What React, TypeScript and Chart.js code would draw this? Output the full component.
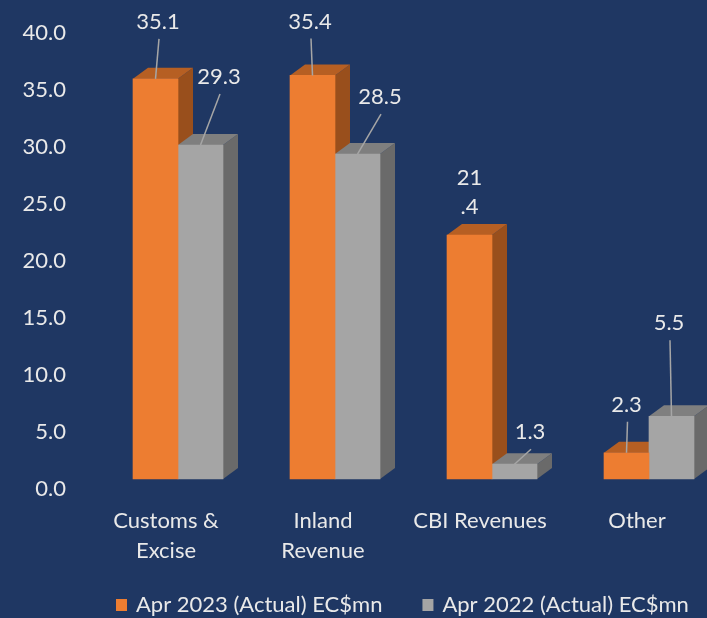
import React, { useEffect, useRef } from 'react';
import { Chart, registerables } from 'chart.js';

Chart.register(...registerables);

// ---- data ----
const categories: string[][] = [['Customs &', 'Excise'], ['Inland', 'Revenue'], ['CBI Revenues'], ['Other']];
const seriesNames = ['Apr 2023 (Actual) EC$mn', 'Apr 2022 (Actual) EC$mn'];
const apr2023 = [35.1, 35.4, 21.4, 2.3];
const apr2022 = [29.3, 28.5, 1.3, 5.5];
const yMin = 0;
const yMax = 40;
const yStep = 5;

// ---- styling ----
const BG = '#1F3763';
const TEXT = '#E9E9E9';
const FONT = 'Lato, "Open Sans", sans-serif';
const FS = 22;
const FRONT = ['#ED7D31', '#A5A5A5'];
const TOP = ['#B65F23', '#7F7F7F'];
const SIDE = ['#994F1C', '#6A6A6A'];
const DX = 15;
const DY = -11;
// label placement relative to bar top centre [dataset][category]
const labelLayout = [
  [{ dx: 2.5, dy: -57, leader: true, wrap: false }, { dx: -2.5, dy: -54, leader: true, wrap: false }, { dx: 0, dy: -43, leader: false, wrap: true }, { dx: 0, dy: -48, leader: true, wrap: false }],
  [{ dx: 18.5, dy: -68, leader: true, wrap: false }, { dx: 22.5, dy: -57, leader: true, wrap: false }, { dx: 15.5, dy: -32, leader: true, wrap: false }, { dx: -2.5, dy: -93, leader: true, wrap: false }],
];

const bgPlugin = {
  id: 'bg',
  beforeDraw(chart: any) {
    const ctx = chart.ctx;
    ctx.save();
    ctx.fillStyle = BG;
    ctx.fillRect(0, 0, chart.width, chart.height);
    ctx.restore();
  },
};

const threeD = {
  id: 'threeD',
  beforeDatasetsDraw(chart: any) {
    const ctx = chart.ctx;
    ctx.save();
    chart.data.datasets.forEach((_ds: any, d: number) => {
      const meta = chart.getDatasetMeta(d);
      meta.data.forEach((el: any) => {
        const left = el.x - el.width / 2;
        const right = el.x + el.width / 2;
        const top = el.y;
        const base = el.base;
        // side
        ctx.fillStyle = SIDE[d];
        ctx.beginPath();
        ctx.moveTo(right, top);
        ctx.lineTo(right + DX, top + DY);
        ctx.lineTo(right + DX, base + DY);
        ctx.lineTo(right, base);
        ctx.closePath();
        ctx.fill();
        // top
        ctx.fillStyle = TOP[d];
        ctx.beginPath();
        ctx.moveTo(left, top);
        ctx.lineTo(left + DX, top + DY);
        ctx.lineTo(right + DX, top + DY);
        ctx.lineTo(right, top);
        ctx.closePath();
        ctx.fill();
      });
    });
    ctx.restore();
  },
  afterDatasetsDraw(chart: any) {
    const ctx = chart.ctx;
    ctx.save();
    ctx.font = `${FS}px ${FONT}`;
    ctx.textAlign = 'center';
    ctx.textBaseline = 'middle';
    chart.data.datasets.forEach((ds: any, d: number) => {
      const meta = chart.getDatasetMeta(d);
      meta.data.forEach((el: any, i: number) => {
        const lay = labelLayout[d][i];
        const lx = el.x + lay.dx;
        const ly = el.y + lay.dy;
        const txt = Number(ds.data[i]).toFixed(1);
        if (lay.leader) {
          ctx.strokeStyle = '#A6A6A6';
          ctx.lineWidth = 1.5;
          ctx.beginPath();
          ctx.moveTo(lx + 1, ly + 17);
          ctx.lineTo(el.x, el.y);
          ctx.stroke();
        }
        ctx.fillStyle = TEXT;
        if (lay.wrap) {
          const parts = txt.split('.');
          ctx.fillText(parts[0], lx, ly - 14.5);
          ctx.fillText('.' + parts[1], lx, ly + 14.5);
        } else {
          ctx.fillText(txt, lx, ly);
        }
      });
    });
    ctx.restore();
  },
  afterDraw(chart: any) {
    const ctx = chart.ctx;
    ctx.save();
    ctx.font = `${FS}px ${FONT}`;
    ctx.textBaseline = 'middle';
    ctx.textAlign = 'left';
    let x = 116;
    const y = 605;
    chart.data.datasets.forEach((ds: any, d: number) => {
      ctx.fillStyle = FRONT[d];
      ctx.fillRect(x, y - 6, 11, 12);
      ctx.fillStyle = TEXT;
      ctx.fillText(ds.label, x + 20, y);
      x += 20 + ctx.measureText(ds.label).width + 40;
    });
    ctx.restore();
  },
};

export default function App() {
  const ref = useRef<HTMLCanvasElement | null>(null);
  useEffect(() => {
    if (!ref.current) return;
    const chart = new Chart(ref.current, {
      type: 'bar',
      data: {
        labels: categories as any,
        datasets: [
          { label: seriesNames[0], data: apr2023, backgroundColor: FRONT[0], borderWidth: 0, barThickness: 45, clip: false as any },
          { label: seriesNames[1], data: apr2022, backgroundColor: FRONT[1], borderWidth: 0, barThickness: 45, clip: false as any },
        ],
      },
      options: {
        responsive: false,
        animation: false,
        layout: { padding: { top: 23, right: 58, bottom: 0, left: 0 } },
        plugins: { legend: { display: false }, tooltip: { enabled: false } },
        scales: {
          x: {
            offset: false,
            grid: { display: false },
            border: { display: false },
            ticks: {
              color: TEXT,
              font: { family: FONT, size: FS, lineHeight: 1.36 },
              padding: 19,
              labelOffset: -12,
              maxRotation: 0,
              autoSkip: false,
            },
            afterFit(scale: any) {
              scale.height = 139;
              scale.paddingLeft = 0;
              scale.paddingRight = 0;
            },
          },
          y: {
            min: yMin,
            max: yMax,
            grid: { display: false },
            border: { display: false },
            ticks: {
              stepSize: yStep,
              color: TEXT,
              font: { family: FONT, size: FS },
              padding: 104,
              labelOffset: 10,
              callback: (v: any) => Number(v).toFixed(1),
            },
            afterFit(scale: any) {
              scale.width = 178;
              scale.paddingTop = 0;
              scale.paddingBottom = 0;
            },
          },
        },
      },
      plugins: [bgPlugin, threeD],
    });
    return () => chart.destroy();
  }, []);
  return (
    <div style={{ position: 'fixed', left: 0, top: 0, width: 707, height: 618, background: BG }}>
      <canvas ref={ref} width={707} height={618} style={{ display: 'block', width: 707, height: 618 }} />
    </div>
  );
}
